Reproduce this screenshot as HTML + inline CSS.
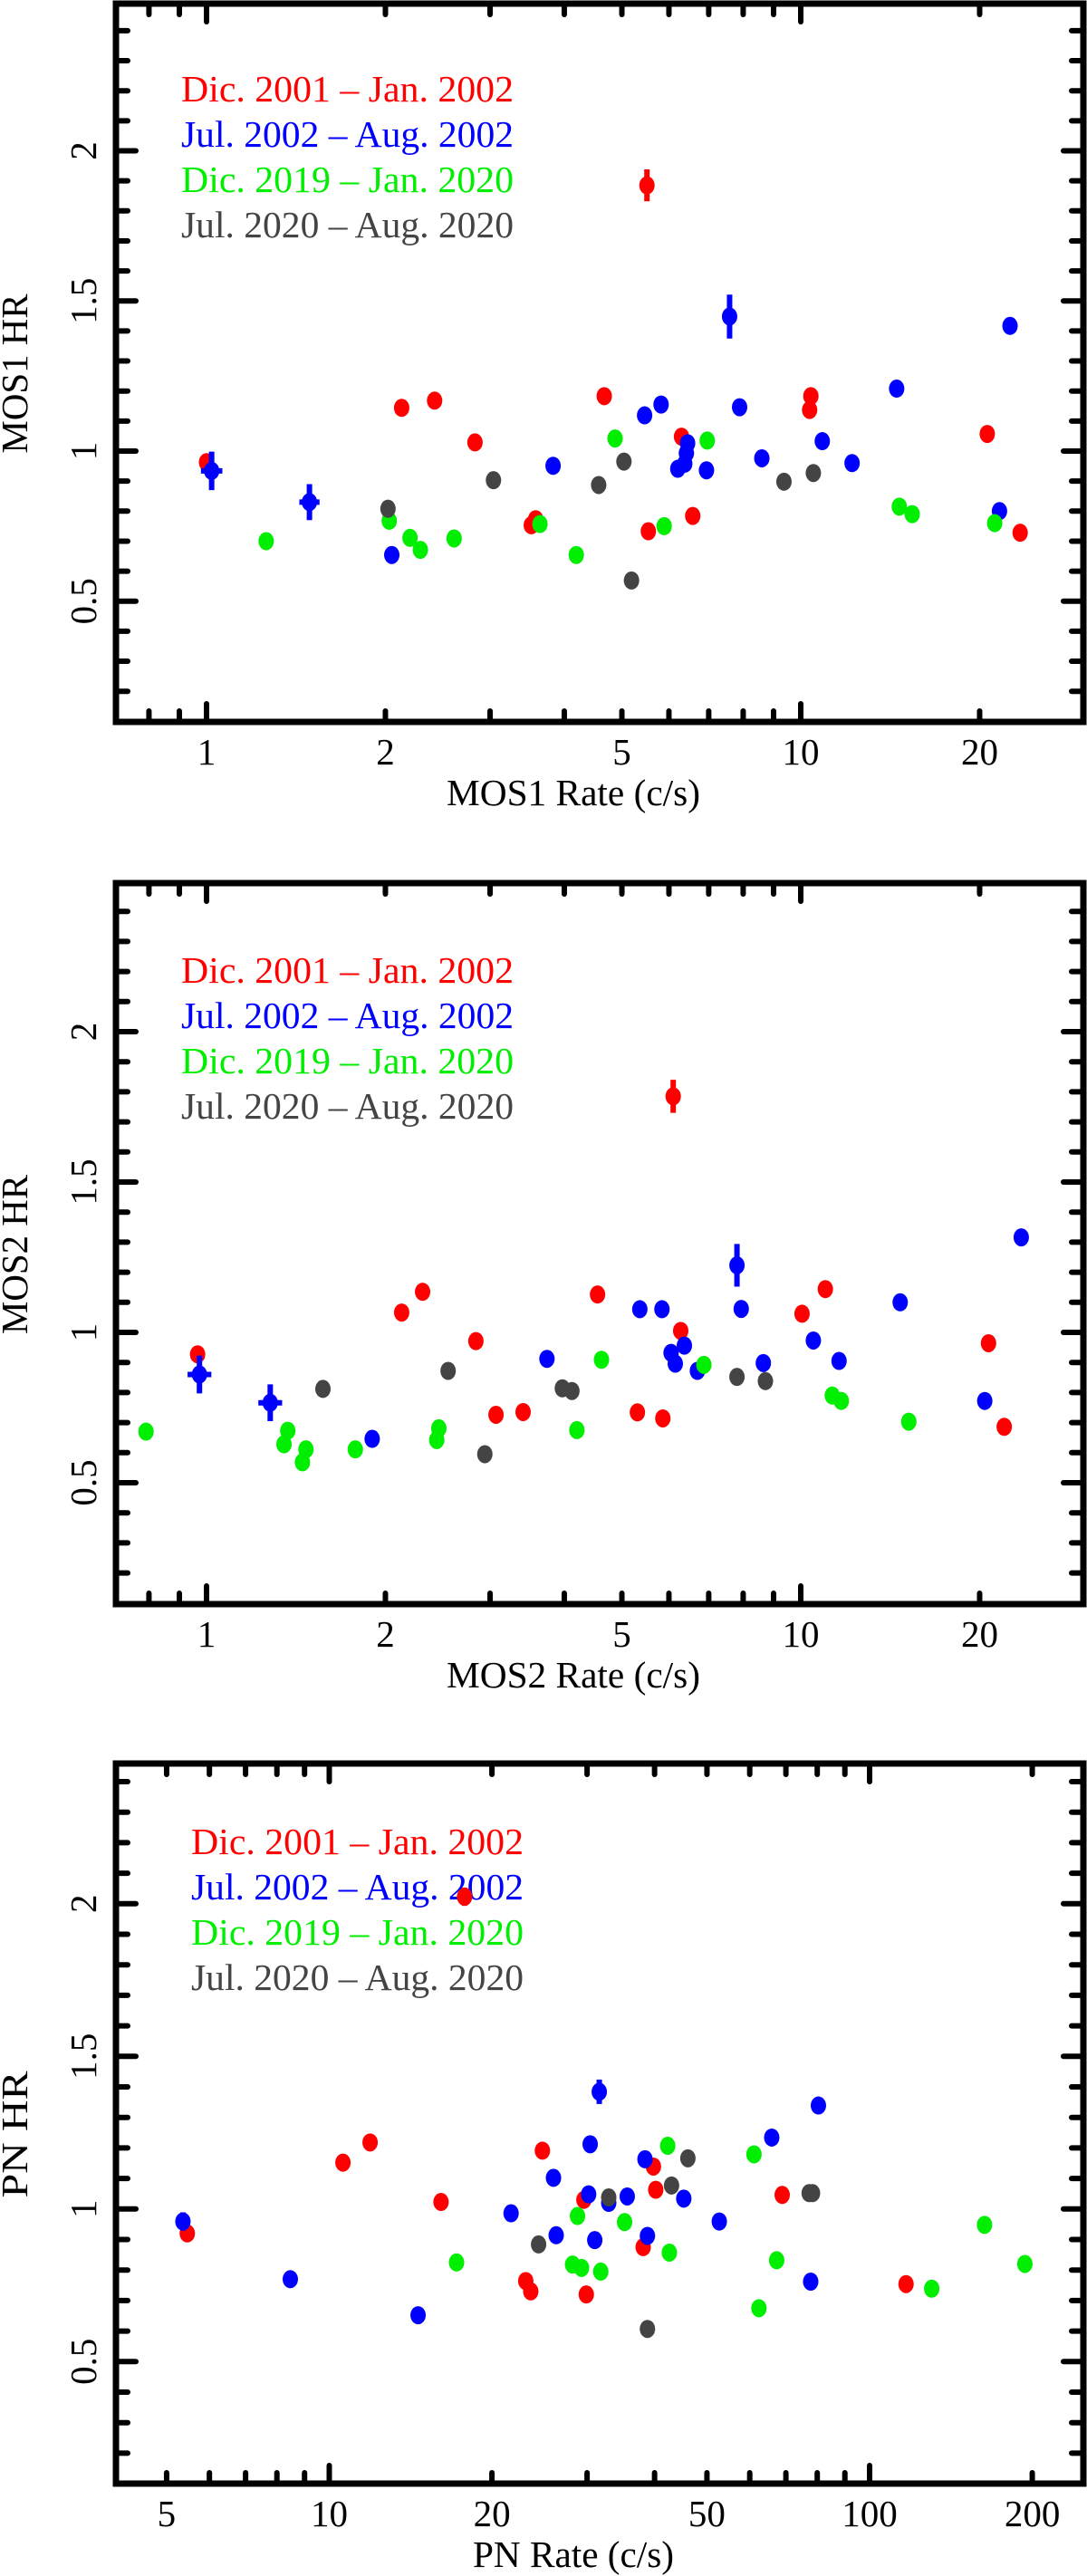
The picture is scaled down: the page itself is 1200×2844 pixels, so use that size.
<!DOCTYPE html>
<html><head><meta charset="utf-8">
<style>
html,body{margin:0;padding:0;background:#fff;}
svg{display:block;}
text{font-family:"Liberation Serif","DejaVu Serif",serif;}
</style></head>
<body>
<svg id="fig" width="1200" height="2844" viewBox="0 0 1200 2844" xmlns="http://www.w3.org/2000/svg"></svg>
<script>
// ---- MOS1 data ----
const mos1RedX = [1.0,2.13,2.42,2.83,3.52,3.58,4.67,5.51,5.54,6.30,6.58,10.35,10.4,20.6,23.4];
const mos1RedY = [0.963,1.144,1.168,1.029,0.753,0.773,1.183,1.885,0.733,1.048,0.784,1.137,1.183,1.057,0.728];
const mos1BlueX = [1.02,1.49,2.05,3.83,5.46,5.82,6.21,6.38,6.45,6.42,6.94,7.59,7.89,8.6,10.87,12.2,14.5,21.6,22.5];
const mos1BlueY = [0.934,0.83,0.654,0.951,1.119,1.155,0.941,0.958,1.026,0.993,0.936,1.448,1.146,0.976,1.033,0.960,1.208,0.80,1.417];
const mos1GreenX = [1.26,2.03,2.20,2.29,2.61,3.64,4.19,4.87,5.89,6.96,14.65,15.4,21.2];
const mos1GreenY = [0.70,0.768,0.711,0.671,0.709,0.757,0.654,1.042,0.75,1.035,0.815,0.79,0.76];
const mos1GrayX = [2.02,3.04,4.57,5.04,5.19,9.37,10.5];
const mos1GrayY = [0.808,0.903,0.887,0.965,0.569,0.898,0.927];
// ---- MOS2 data ----
const mos2RedX = [0.966,2.13,2.31,2.84,3.07,3.41,4.55,5.31,5.86,6.10,6.28,10.05,11.0,20.7,22.0];
const mos2RedY = [0.927,1.066,1.135,0.971,0.726,0.735,1.126,0.734,0.714,1.785,1.005,1.062,1.144,0.964,0.686];
const mos2BlueX = [0.973,1.28,1.90,3.74,5.36,5.84,6.05,6.15,6.37,6.70,7.81,7.94,8.65,10.5,11.6,14.7,20.4,23.5];
const mos2BlueY = [0.86,0.766,0.646,0.912,1.077,1.077,0.932,0.896,0.956,0.872,1.223,1.078,0.898,0.973,0.905,1.100,0.772,1.316];
const mos2GreenX = [0.791,1.35,1.37,1.45,1.47,1.78,2.44,2.46,4.20,4.62,6.87,11.3,11.7,15.2];
const mos2GreenY = [0.670,0.628,0.673,0.568,0.611,0.611,0.642,0.681,0.675,0.909,0.892,0.790,0.772,0.703];
const mos2GrayX = [1.57,2.55,2.94,3.97,4.12,7.81,8.72];
const mos2GrayY = [0.812,0.872,0.595,0.814,0.805,0.852,0.838];
// ---- PN data ----
const pnRedX = [5.46,10.6,11.9,16.1,17.8,23.1,23.6,24.8,29.6,29.9,38.1,39.8,40.2,68.9,116.8];
const pnRedY = [0.920,1.152,1.218,1.023,2.023,0.764,0.730,1.191,1.030,0.720,0.875,1.139,1.063,1.046,0.754];
const pnBlueX = [5.36,8.47,14.6,21.7,26.0,26.3,30.2,30.4,31.0,31.6,32.9,35.6,38.4,38.8,45.3,52.7,65.9,77.8,80.4];
const pnBlueY = [0.959,0.770,0.652,0.986,1.102,0.914,1.048,1.212,0.898,1.384,1.020,1.041,1.163,0.912,1.034,0.959,1.234,0.762,1.339];
const pnGreenX = [17.2,28.2,28.8,29.3,31.8,35.2,42.3,42.6,61.1,62.4,67.3,130.3,163.2,193.8];
const pnGreenY = [0.825,0.818,0.977,0.807,0.795,0.957,1.207,0.857,1.179,0.675,0.832,0.739,0.948,0.820];
const pnGrayX = [24.4,32.9,38.8,43.0,46.1,77.3,78.4];
const pnGrayY = [0.884,1.038,0.607,1.077,1.166,1.052,1.052];
// error bars: [series, index, yErr, xErrLog]
const mos1Errors = [['blue',0,0.064,0.018],['blue',1,0.06,0.017],['blue',11,0.073,0.008],['red',7,0.053,0.006]];
const mos2Errors = [['blue',0,0.063,0.02],['blue',1,0.061,0.02],['blue',10,0.071,0.008],['red',9,0.055,0.006]];
const pnErrors = [['red',4,0.03,0.006],['blue',9,0.04,0.006],['blue',0,0.03,0.006],['blue',1,0.025,0.006]];
const mosTickLabels = [1,2,5,10,20];
const pnTickLabels = [5,10,20,50,100,200];
const yTickLabels = [0.5,1,1.5,2];
const legendLabels = ['Dic. 2001 \u2013 Jan. 2002','Jul. 2002 \u2013 Aug. 2002','Dic. 2019 \u2013 Jan. 2020','Jul. 2020 \u2013 Aug. 2020'];

const COLORS = {red:'#ff0000',blue:'#0000ff',green:'#00ee00',gray:'#444444'};
const NS='http://www.w3.org/2000/svg';
const svg=document.getElementById('fig');
function mk(tag,attrs,parent){const e=document.createElementNS(NS,tag);for(const k in attrs)e.setAttribute(k,attrs[k]);(parent||svg).appendChild(e);return e;}

function panel(cfg){
  const g=mk('g',{});
  
  
  const L=128,R=1196,T=cfg.top,B=cfg.bottom;
  const xs=v=>cfg.xp0+(Math.log10(v)-cfg.xl0)*cfg.xdec;
  const ys=v=>cfg.y1+(1-v)*cfg.yunit;
  const xmin=Math.pow(10,cfg.xl0+(L-cfg.xp0)/cfg.xdec), xmax=Math.pow(10,cfg.xl0+(R-cfg.xp0)/cfg.xdec);
  // ticks
  const tg=mk('g',{stroke:'#000','stroke-linecap':'round','stroke-width':6},g);
  
  
  for(let d=-1;d<=3;d++){for(let m=1;m<=9;m++){const v=m*Math.pow(10,d);if(v<xmin||v>xmax)continue;const x=xs(v);const len=m===1?20:12;
    mk('line',{x1:x,y1:B,x2:x,y2:B-len},tg);mk('line',{x1:x,y1:T,x2:x,y2:T+len},tg);}}
  for(let i=1;i<=25;i++){const v=i/10;const y=ys(v);if(y<T+2||y>B-2)continue;const len=(i%5===0)?22:13;
    mk('line',{x1:L,y1:y,x2:L+len,y2:y},tg);mk('line',{x1:R,y1:y,x2:R-len,y2:y},tg);}
  const fr=mk('rect',{x:L,y:T,width:R-L,height:B-T,fill:'none',stroke:'#000','stroke-width':7},g);
  
  
  // tick labels
  cfg.xlabels.forEach(v=>{const t=mk('text',{x:xs(v),y:B+47,'font-size':41,'text-anchor':'middle'},g);t.textContent=v;
    
    });
  yTickLabels.forEach(v=>{const y=ys(v);const t=mk('text',{x:0,y:0,'font-size':41,'text-anchor':'middle',transform:`translate(106,${y}) rotate(-90)`},g);t.textContent=v;
    
    });
  const xt=mk('text',{x:633,y:B+92,'font-size':41,'text-anchor':'middle',textLength:cfg.xtw,lengthAdjust:'spacingAndGlyphs'},g);xt.textContent=cfg.xtitle;
  
  
  const yt=mk('text',{x:0,y:0,'font-size':41,'text-anchor':'middle',textLength:cfg.ytw,lengthAdjust:'spacingAndGlyphs',transform:`translate(30,${(T+B)/2+12}) rotate(-90)`},g);yt.textContent=cfg.ytitle;
  
  
  // legend
  const lg=mk('g',{},g);
  
  
  ['red','blue','green','gray'].forEach((c,i)=>{const t=mk('text',{x:cfg.legx,y:T+cfg.legTop+i*50,'font-size':41,fill:COLORS[c],textLength:367,lengthAdjust:'spacingAndGlyphs'},lg);t.textContent=legendLabels[i];
    
    });
  // points
  const pg=mk('g',{},g);
  
  
  const series=cfg.series;
  ['red','blue','green','gray'].forEach(c=>{const sx=series[c][0],sy=series[c][1];
    sx.forEach((xv,i)=>{const e=mk('ellipse',{cx:xs(xv),cy:ys(sy[i]),rx:8.5,ry:10,fill:COLORS[c]},pg);
      
      });});
  cfg.errors.forEach(([c,i,ye,xe])=>{const xv=series[c][0][i],yv=series[c][1][i];const cx=xs(xv),cy=ys(yv);
    const l1=mk('line',{x1:cx,y1:ys(yv+ye),x2:cx,y2:ys(yv-ye),stroke:COLORS[c],'stroke-width':6},pg);
    
    
    const l2=mk('line',{x1:cx-xe*cfg.xdec,y1:cy,x2:cx+xe*cfg.xdec,y2:cy,stroke:COLORS[c],'stroke-width':6},pg);
    
    });
}
panel({name:'mos1',top:4,bottom:797,xp0:228,xl0:0,xdec:656,y1:498,yunit:331.5,xlabels:mosTickLabels,xtitle:'MOS1 Rate (c/s)',ytitle:'MOS1 HR',xtw:280,ytw:176,legx:200,legTop:108,
  series:{red:[mos1RedX,mos1RedY],blue:[mos1BlueX,mos1BlueY],green:[mos1GreenX,mos1GreenY],gray:[mos1GrayX,mos1GrayY]},errors:mos1Errors});
panel({name:'mos2',top:975,bottom:1771,xp0:228,xl0:0,xdec:656,y1:1471,yunit:332,xlabels:mosTickLabels,xtitle:'MOS2 Rate (c/s)',ytitle:'MOS2 HR',xtw:280,ytw:176,legx:200,legTop:110,
  series:{red:[mos2RedX,mos2RedY],blue:[mos2BlueX,mos2BlueY],green:[mos2GreenX,mos2GreenY],gray:[mos2GrayX,mos2GrayY]},errors:mos2Errors});
panel({name:'pn',top:1947,bottom:2742,xp0:363.5,xl0:1,xdec:596.5,y1:2438.8,yunit:337,xlabels:pnTickLabels,xtitle:'PN Rate (c/s)',ytitle:'PN HR',xtw:222,ytw:140,legx:211,legTop:100,
  series:{red:[pnRedX,pnRedY],blue:[pnBlueX,pnBlueY],green:[pnGreenX,pnGreenY],gray:[pnGrayX,pnGrayY]},errors:pnErrors});
</script>
</body></html>
